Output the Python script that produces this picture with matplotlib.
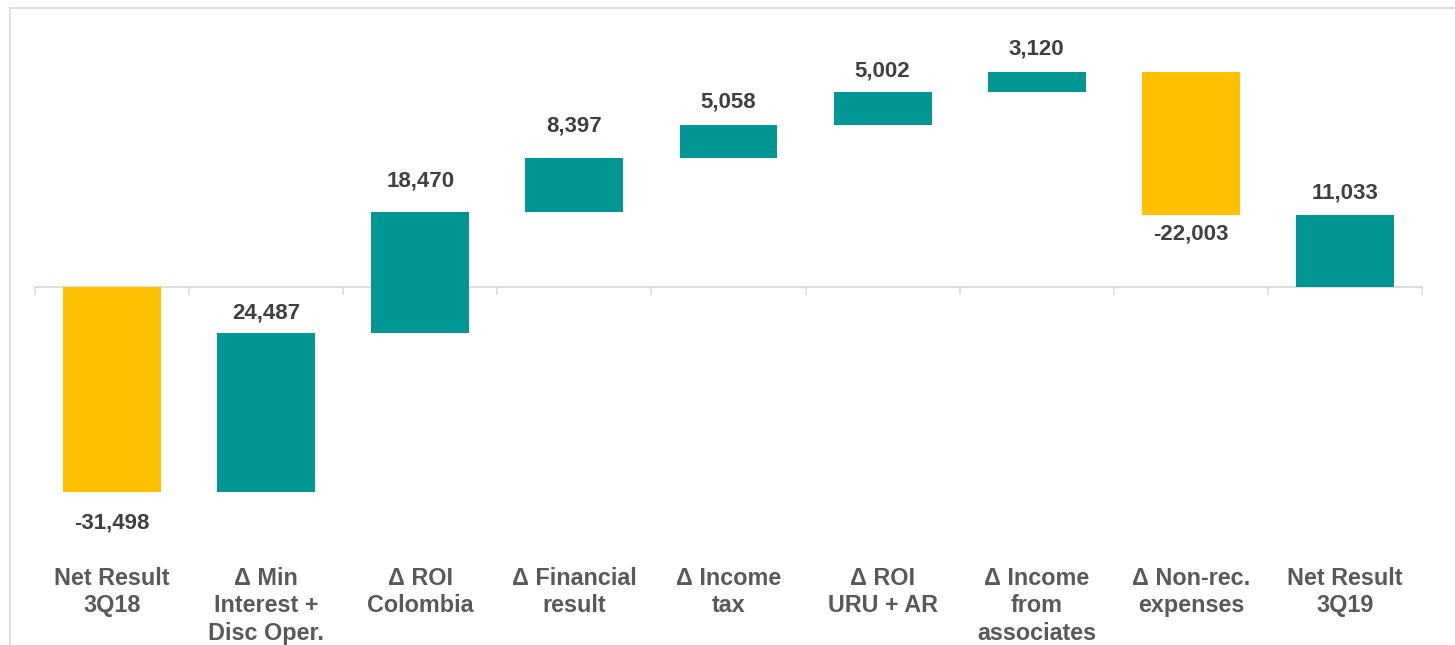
import matplotlib
matplotlib.use("Agg")
import matplotlib.pyplot as plt
from matplotlib.lines import Line2D
import matplotlib.transforms as mtransforms

# ---- data ----
categories = ["Net Result\n3Q18", "\u0394 Min\nInterest +\nDisc Oper.", "\u0394 ROI\nColombia",
              "\u0394 Financial\nresult", "\u0394 Income\ntax", "\u0394 ROI\nURU + AR",
              "\u0394 Income\nfrom\nassociates", "\u0394 Non-rec.\nexpenses", "Net Result\n3Q19"]
start_value = -31498
deltas = [24487, 18470, 8397, 5058, 5002, 3120, -22003]
end_value = 11033
value_labels = ["-31,498", "24,487", "18,470", "8,397", "5,058", "5,002", "3,120", "-22,003", "11,033"]

# ---- style ----
YELLOW = "#FFC000"
TEAL = "#009693"
GRID = "#D9D9D9"
label_pad_px = [20, 9, 21, 21, 12, 11, 12, 8, 12]

plt.rcParams['font.family'] = ['Liberation Sans', 'DejaVu Sans']

W, H = 1455, 645
fig = plt.figure(figsize=(W / 100, H / 100), dpi=100)
ax = fig.add_axes([35 / W, 0, 1387 / W, 1])

# waterfall geometry from data
bottoms, heights = [], []
bottoms.append(0); heights.append(start_value)
running = start_value
for d in deltas:
    bottoms.append(running); heights.append(d)
    running += d
bottoms.append(0); heights.append(end_value)

colors = [YELLOW if h < 0 else TEAL for h in heights]
x = list(range(len(categories)))
ax.bar(x, heights, bottom=bottoms, width=0.635, color=colors, zorder=3)

zero_px = 287
scale = 0.00651  # px per unit
ax.set_ylim(-(H - zero_px) / scale, zero_px / scale)
ax.set_xlim(-0.5, len(categories) - 0.5)

for s in ["top", "left", "right"]:
    ax.spines[s].set_visible(False)
ax.spines["bottom"].set_position(("data", 0))
ax.spines["bottom"].set_color(GRID)
ax.spines["bottom"].set_linewidth(1.3)
ax.set_yticks([])
ax.set_xticks(x)
ax.set_xticklabels([])
ax.tick_params(axis="x", which="major", length=0)
ax.set_xticks([i - 0.5 for i in range(len(categories) + 1)], minor=True)
ax.tick_params(axis="x", which="minor", length=6, width=1.1, color=GRID, direction="out")

for i, (b, h) in enumerate(zip(bottoms, heights)):
    top = max(b, b + h)
    bot = min(b, b + h)
    if h >= 0:
        ax.annotate(value_labels[i], (i, top), xytext=(0, label_pad_px[i]), textcoords="offset pixels",
                    ha="center", va="bottom", fontsize=16, fontweight="bold", color="#404040")
    else:
        ax.annotate(value_labels[i], (i, bot), xytext=(0, -label_pad_px[i]), textcoords="offset pixels",
                    ha="center", va="top", fontsize=16, fontweight="bold", color="#404040")

trans = mtransforms.blended_transform_factory(ax.transData, ax.transAxes)
for i, c in enumerate(categories):
    ax.text(i, 1 - 567 / H, c, transform=trans, ha="center", va="top", fontsize=16.8,
            fontweight="bold", color="#595959", linespacing=1.24)

# outer frame (top and left)
fig.add_artist(Line2D([10 / W, 1], [1 - 8 / H, 1 - 8 / H], transform=fig.transFigure, color=GRID, lw=1.2))
fig.add_artist(Line2D([10 / W, 10 / W], [0, 1 - 8 / H], transform=fig.transFigure, color=GRID, lw=1.2))

fig.savefig("out.png", dpi=100)
